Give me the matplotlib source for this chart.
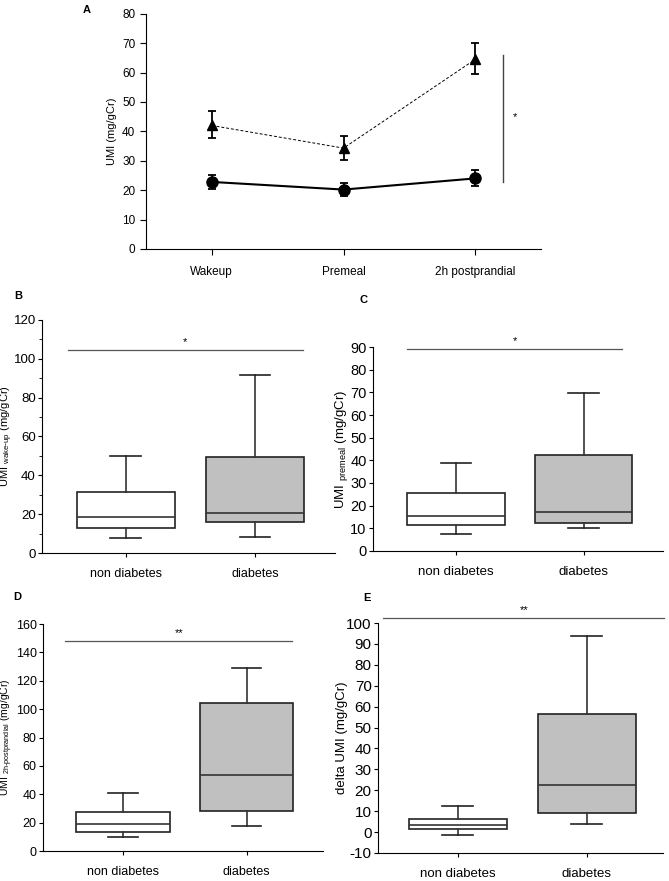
import matplotlib
matplotlib.use("Agg")
import matplotlib.pyplot as plt
import numpy as np

plt.rcParams['font.family'] = ['Liberation Sans', 'DejaVu Sans']
plt.rcParams['axes.unicode_minus'] = False

# panel A data (mean +/- error)
timepoints = ['Wakeup', 'Premeal', '2h postprandial']
diab_mean = [42.0, 34.3, 64.5]
diab_lo = [37.7, 30.3, 59.5]
diab_hi = [47.0, 38.5, 70.0]
nondiab_mean = [22.8, 20.2, 24.0]
nondiab_lo = [20.5, 18.1, 21.3]
nondiab_hi = [25.3, 22.3, 26.8]

groups = ['non diabetes', 'diabetes']
# box stats: whisker low, q1, median, q3, whisker high
wake_nd = [7.5, 13.0, 18.7, 31.3, 50.0]
wake_d = [8.3, 15.8, 20.8, 49.5, 91.8]
pre_nd = [7.7, 11.4, 15.4, 25.5, 39.0]
pre_d = [10.3, 12.3, 17.2, 42.3, 69.5]
post_nd = [10.0, 13.5, 19.2, 27.5, 41.0]
post_d = [17.5, 28.3, 53.3, 104.3, 129.3]
delta_nd = [-1.3, 1.3, 3.5, 6.2, 12.5]
delta_d = [4.0, 9.3, 22.4, 56.3, 93.6]

fig = plt.figure(figsize=(6.69, 8.81), dpi=100)

# ---------- panel A ----------
axA = fig.add_axes([0.218, 0.7174, 0.591, 0.267])
x = np.arange(len(timepoints))
dm = np.array(diab_mean)
nm = np.array(nondiab_mean)
axA.errorbar(x, dm, yerr=[dm - np.array(diab_lo), np.array(diab_hi) - dm],
             fmt='^', color='black', markersize=7, capsize=3, elinewidth=1.3,
             capthick=1.3, zorder=3)
axA.plot(x, dm, color='black', lw=0.7, ls=(0, (3, 2)), zorder=2)
axA.errorbar(x, nm, yerr=[nm - np.array(nondiab_lo), np.array(nondiab_hi) - nm],
             fmt='o', color='black', markersize=8, capsize=3, elinewidth=1.3,
             capthick=1.3, zorder=3)
axA.plot(x, nm, color='black', lw=1.5, zorder=2)
axA.set_xlim(-0.5, 2.5)
axA.set_ylim(0, 80)
axA.set_yticks(np.arange(0, 81, 10))
axA.set_xticks(x)
axA.set_xticklabels(timepoints)
axA.tick_params(labelsize=8.5, direction='out', length=4)
axA.tick_params(axis='x', pad=8)
axA.set_ylabel('UMI (mg/gCr)', fontsize=8)
for s in ['top', 'right']:
    axA.spines[s].set_visible(False)
axA.plot([2.21, 2.21], [22.8, 66], color='#444444', lw=1, clip_on=False)
axA.text(2.30, 45, '*', fontsize=8, ha='center', va='center')
fig.text(0.123, 0.994, 'A', fontsize=8, fontweight='bold', va='top')


def box_panel(ax, nd, d, ylim, yticks, ylabel, sig_y, sig_x, star, tick_fs,
              lab_fs, ylab_fs, ylab_x, minor=False):
    stats = []
    for vals, lab in zip([nd, d], groups):
        stats.append({'whislo': vals[0], 'q1': vals[1], 'med': vals[2],
                      'q3': vals[3], 'whishi': vals[4], 'label': lab,
                      'fliers': []})
    bp = ax.bxp(stats, positions=[1, 2], widths=0.76, patch_artist=True,
                showfliers=False,
                boxprops=dict(linewidth=1.2, edgecolor='#222222'),
                medianprops=dict(color='#333333', linewidth=1.2),
                whiskerprops=dict(color='#333333', linewidth=1.2),
                capprops=dict(color='#222222', linewidth=1.2),
                capwidths=0.24)
    bp['boxes'][0].set_facecolor('white')
    bp['boxes'][1].set_facecolor('#c0c0c0')
    ax.set_xlim(0.35, 2.62)
    ax.set_ylim(*ylim)
    ax.set_yticks(yticks)
    if minor:
        ax.set_yticks(np.arange(ylim[0] + 10, ylim[1], 20), minor=True)
    ax.tick_params(labelsize=tick_fs, direction='out', length=3)
    ax.tick_params(axis='y', pad=1.5)
    ax.tick_params(axis='x', pad=7.5, labelsize=lab_fs)
    ax.set_ylabel(ylabel, fontsize=ylab_fs)
    ax.yaxis.set_label_coords(ylab_x, 0.5)
    for s in ['top', 'right']:
        ax.spines[s].set_visible(False)
    ax.plot(sig_x, [sig_y, sig_y], color='#555555', lw=0.9, clip_on=False)
    ax.text(np.mean(sig_x), sig_y + (ylim[1] - ylim[0]) * 0.035, star,
            fontsize=8, ha='center', va='center')


axB = fig.add_axes([0.0628, 0.3723, 0.438, 0.2645])
box_panel(axB, wake_nd, wake_d, (0, 120), np.arange(0, 121, 20),
          r'UMI $_{\mathregular{wake\text{-}up}}$ (mg/gCr)', 104.4,
          [0.55, 2.37], '*', 9.5, 9, 8, -0.092, minor=True)
fig.text(0.022, 0.664, 'B', fontsize=8, fontweight='bold', va='center')

axC = fig.add_axes([0.5575, 0.3746, 0.4335, 0.2315])
box_panel(axC, pre_nd, pre_d, (0, 90), np.arange(0, 91, 10),
          r'UMI $_{\mathregular{premeal}}$ (mg/gCr)', 89.3,
          [0.62, 2.3], '*', 10.5, 9.5, 9.5, -0.08)
fig.text(0.538, 0.659, 'C', fontsize=8, fontweight='bold', va='center')

axD = fig.add_axes([0.0643, 0.034, 0.4185, 0.2577])
box_panel(axD, post_nd, post_d, (0, 160), np.arange(0, 161, 20),
          r'UMI $_{\mathregular{2h\text{-}postprandial}}$ (mg/gCr)', 148.2,
          [0.53, 2.37], '**', 9, 9, 7.5, -0.1)
fig.text(0.02, 0.322, 'D', fontsize=8, fontweight='bold', va='center')

axE = fig.add_axes([0.565, 0.0318, 0.426, 0.261])
box_panel(axE, delta_nd, delta_d, (-10, 100), np.arange(-10, 101, 10),
          'delta UMI (mg/gCr)', 102.4, [0.42, 2.6], '**', 11, 9.5, 9.5, -0.105)
axE.set_xlim(0.38, 2.59)
fig.text(0.543, 0.321, 'E', fontsize=8, fontweight='bold', va='center')

fig.savefig('out.png', dpi=100)
